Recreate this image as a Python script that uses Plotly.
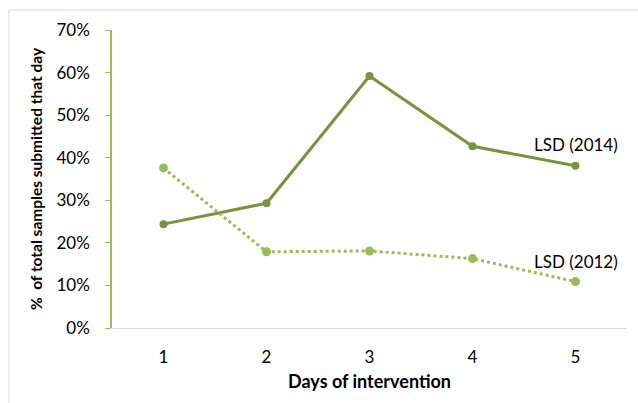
import plotly.graph_objects as go

days = ["1", "2", "3", "4", "5"]
lsd_2014 = [0.244, 0.293, 0.592, 0.427, 0.381]
lsd_2012 = [0.376, 0.179, 0.181, 0.163, 0.109]
series_names = ["LSD (2014)", "LSD (2012)"]
y_ticks = [0, 0.1, 0.2, 0.3, 0.4, 0.5, 0.6, 0.7]

dark = "#77933C"
light = "#9BBB59"
font = "Lato, 'Open Sans', sans-serif"

fig = go.Figure()
fig.add_trace(go.Scatter(x=days, y=lsd_2014, mode="lines+markers", name=series_names[0],
                         line=dict(color=dark, width=3), marker=dict(color=dark, size=8)))
fig.add_trace(go.Scatter(x=days, y=lsd_2012, mode="lines+markers", name=series_names[1],
                         line=dict(color=light, width=3, dash="dot"), marker=dict(color=light, size=9)))

last = len(days) - 1
fig.add_annotation(x=last, y=lsd_2014[-1], text=series_names[0], showarrow=False,
                   yshift=21, font=dict(family=font, size=17, color="#000"))
fig.add_annotation(x=last, y=lsd_2012[-1], text=series_names[1], showarrow=False,
                   yshift=20, font=dict(family=font, size=17, color="#000"))

fig.add_shape(type="rect", xref="paper", yref="paper", x0=-0.2, x1=1.05, y0=-0.4, y1=1.067,
              line=dict(color="#D9D9D9", width=1), layer="below")

fig.update_layout(
    width=638, height=403,
    margin=dict(l=112, r=11, t=30, b=75),
    paper_bgcolor="white", plot_bgcolor="white",
    showlegend=False,
    font=dict(family=font, size=17, color="#000"),
    xaxis=dict(type="category", range=[-0.5, 4.5], showgrid=False, showline=True,
               linecolor="#D9D9D9", linewidth=1, ticks="", tickfont=dict(size=17),
               ticklabelstandoff=14,
               title=dict(text="<b>Days of intervention</b>", font=dict(size=18), standoff=8)),
    yaxis=dict(range=[0, 0.7], tickvals=y_ticks, tickformat=".0%", showgrid=False,
               showline=True, linecolor=light, linewidth=1.5, ticks="outside",
               tickcolor=light, ticklen=5, tickfont=dict(size=17), zeroline=False,
               ticklabelstandoff=12,
               title=dict(text="<b>%  of total samples submitted that day</b>", font=dict(size=15.5), standoff=10)),
)

fig.write_html("out.html", config={"displayModeBar": False},
               post_script="document.body.style.margin='0';")
